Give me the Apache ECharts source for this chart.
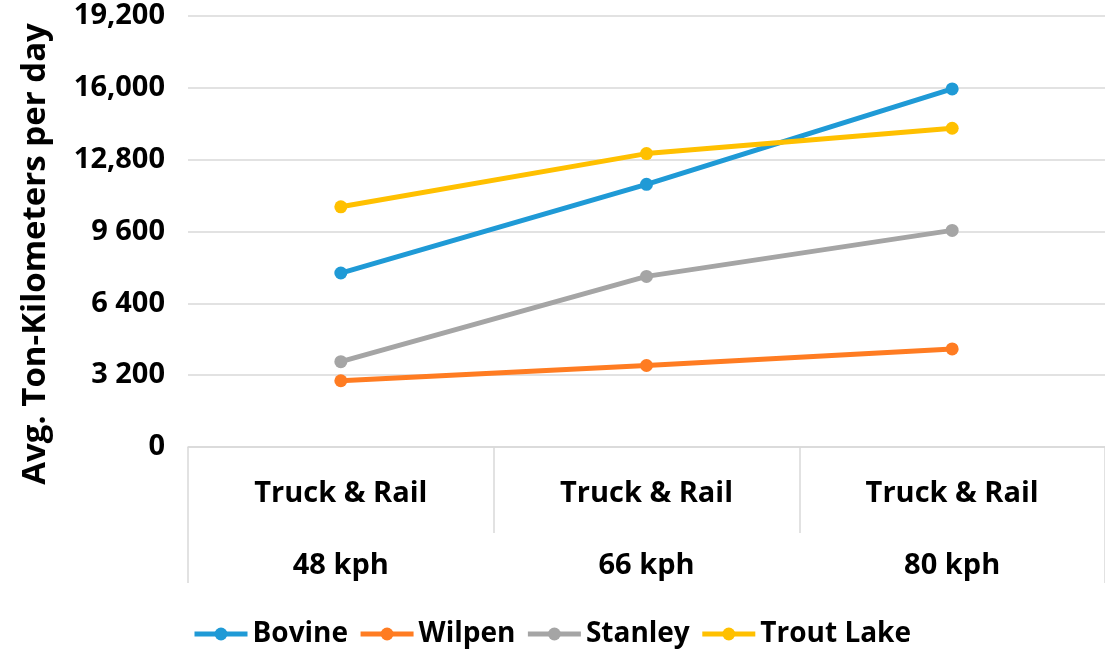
<!DOCTYPE html>
<html>
<head>
<meta charset="utf-8">
<script src="https://cdn.jsdelivr.net/npm/echarts@6/dist/echarts.min.js"></script>
<style>
  html, body { margin: 0; padding: 0; background: #fff; }
  #chart { width: 1105px; height: 650px; }
</style>
</head>
<body>
<div id="chart"></div>
<script>
// data
const modes = ['Truck & Rail', 'Truck & Rail', 'Truck & Rail']
const speeds = ['48 kph', '66 kph', '80 kph']
const yTickLabels = ['0', '3 200', '6 400', '9 600', '12,800', '16,000', '19,200']
const bovine = [7750, 11700, 15950]
const wilpen = [2950, 3630, 4370]
const stanley = [3800, 7600, 9650]
const troutLake = [10700, 13070, 14200]

const font = 'Open Sans'
const gridColor = '#d9d9d9'

const makeLine = (name, data, color) => ({
  name: name,
  type: 'line',
  data: data,
  symbol: 'circle',
  symbolSize: 13,
  lineStyle: { color: color, width: 5 },
  itemStyle: { color: color },
  xAxisIndex: 0
})

const chart = echarts.init(document.getElementById('chart'))
const option = {
  animation: false,
  textStyle: { fontFamily: font },
  grid: { left: 188, width: 921, top: 16, bottom: 203 },
  legend: {
    left: 187,
    top: 615,
    itemWidth: 53,
    itemHeight: 16,
    itemGap: 10,
    lineStyle: { width: 5 },
    textStyle: { fontSize: 28, fontWeight: 'bold', color: '#000', fontFamily: font },
    data: ['Bovine', 'Wilpen', 'Stanley', 'Trout Lake']
  },
  xAxis: [
    {
      type: 'category',
      position: 'bottom',
      data: modes,
      axisLine: { lineStyle: { color: gridColor, width: 1.5 } },
      axisTick: { show: true, interval: 0, length: 86, lineStyle: { color: gridColor, width: 1.5 } },
      axisLabel: { margin: 32, fontSize: 29, fontWeight: 'bold', color: '#000', interval: 0 }
    },
    {
      type: 'category',
      position: 'bottom',
      data: speeds,
      axisLine: { show: false },
      axisTick: { show: false },
      axisLabel: { margin: 104, fontSize: 29, fontWeight: 'bold', color: '#000', interval: 0 }
    },
    {
      type: 'category',
      position: 'bottom',
      data: [''],
      axisLine: { show: false },
      axisTick: { show: true, length: 136, lineStyle: { color: gridColor, width: 1.5 } },
      axisLabel: { show: false }
    }
  ],
  yAxis: {
    type: 'value',
    min: 0,
    max: 19200,
    interval: 3200,
    axisLine: { show: false },
    axisTick: { show: false },
    splitLine: { lineStyle: { color: gridColor, width: 1.5 } },
    axisLabel: {
      margin: 23,
      fontSize: 29,
      fontWeight: 'bold',
      color: '#000',
      formatter: v => yTickLabels[Math.round(v / 3200)]
    }
  },
  graphic: [
    {
      type: 'text',
      x: 36,
      y: 254,
      rotation: Math.PI / 2,
      style: {
        text: 'Avg. Ton-Kilometers per day',
        fontFamily: font,
        fontSize: 33,
        fontWeight: 'bold',
        fill: '#000',
        textAlign: 'center',
        textVerticalAlign: 'middle'
      }
    }
  ],
  series: [
    makeLine('Bovine', bovine, '#1f9ad6'),
    makeLine('Wilpen', wilpen, '#ff7c22'),
    makeLine('Stanley', stanley, '#a5a5a5'),
    makeLine('Trout Lake', troutLake, '#ffc000')
  ]
}
chart.setOption(option)
</script>
</body>
</html>
